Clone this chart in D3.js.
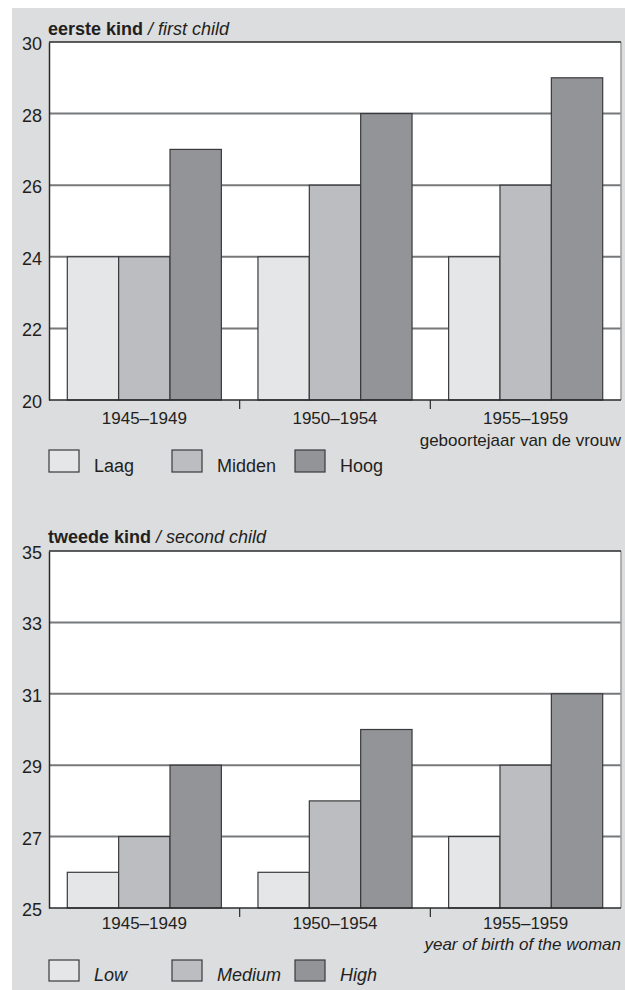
<!DOCTYPE html>
<html>
<head>
<meta charset="utf-8">
<script src="https://cdn.jsdelivr.net/npm/d3@7"></script>
<style>
  html, body { margin: 0; padding: 0; background: #ffffff; }
  svg { display: block; }
  text { font-family: "Liberation Sans", Arial, sans-serif; fill: #231f20; }
</style>
</head>
<body>
<svg id="chart" width="625" height="990"></svg>
<script>
// ---- data ----
const categories = ["1945–1949", "1950–1954", "1955–1959"];
const levelsNL = ["Laag", "Midden", "Hoog"];
const levelsEN = ["Low", "Medium", "High"];
const firstLow = [24, 24, 24];
const firstMid = [24, 26, 26];
const firstHigh = [27, 28, 29];
const secondLow = [26, 26, 27];
const secondMid = [27, 28, 29];
const secondHigh = [29, 30, 31];
const ticksFirst = [20, 22, 24, 26, 28, 30];
const ticksSecond = [25, 27, 29, 31, 33, 35];

const colors = ["#e5e6e8", "#bcbdc0", "#939498"];

const svg = d3.select("#chart");
svg.append("rect").attr("x", 12).attr("y", 8).attr("width", 613).attr("height", 982).attr("fill", "#dcdddf");

const plotLeft = 49, plotRight = 621;
const x0 = d3.scaleBand().domain(categories).range([plotLeft, plotRight]).padding(0);
const x1 = d3.scaleBand().domain([0, 1, 2]).range([18.3, x0.bandwidth() - 18.3]).padding(0);

function drawPanel(cfg) {
  const g = svg.append("g");
  const y = d3.scaleLinear().domain(cfg.domain).range([cfg.bottom, cfg.top]);
  // plot background
  g.append("rect").attr("x", plotLeft).attr("y", cfg.top)
    .attr("width", plotRight - plotLeft).attr("height", cfg.bottom - cfg.top).attr("fill", "#ffffff");
  // gridlines
  g.selectAll(".grid").data(cfg.ticks.slice(1, -1)).enter().append("line")
    .attr("x1", plotLeft).attr("x2", plotRight)
    .attr("y1", d => y(d)).attr("y2", d => y(d))
    .attr("stroke", "#77787a").attr("stroke-width", 2);
  // bars
  const series = cfg.series;
  categories.forEach((c, ci) => {
    series.forEach((s, si) => {
      g.append("rect")
        .attr("x", x0(c) + x1(si))
        .attr("y", y(s[ci]))
        .attr("width", x1.bandwidth())
        .attr("height", y(cfg.domain[0]) - y(s[ci]))
        .attr("fill", colors[si])
        .attr("stroke", "#3a3a3c").attr("stroke-width", 1.2);
    });
  });
  // frame
  g.append("line").attr("x1", plotRight).attr("x2", plotRight).attr("y1", cfg.top).attr("y2", cfg.bottom)
    .attr("stroke", "#9a9b9d").attr("stroke-width", 1.5);
  g.append("line").attr("x1", plotLeft).attr("x2", plotRight).attr("y1", cfg.top).attr("y2", cfg.top)
    .attr("stroke", "#2a2a2a").attr("stroke-width", 1.5);
  // y axis
  const yAxis = d3.axisLeft(y).tickValues(cfg.ticks).tickSize(0).tickPadding(7).tickFormat(d3.format("d"));
  const ya = g.append("g").attr("transform", `translate(${plotLeft},0)`).call(yAxis);
  ya.select(".domain").attr("stroke", "#2a2a2a").attr("stroke-width", 1.5);
  ya.selectAll("text").attr("font-size", 18).attr("dy", "0.42em").attr("fill", "#231f20")
    .style("font-family", '"Liberation Sans", Arial, sans-serif');
  // x axis
  const xa = g.append("g").attr("transform", `translate(0,${cfg.bottom})`);
  xa.append("line").attr("x1", plotLeft).attr("x2", plotRight).attr("y1", 0).attr("y2", 0)
    .attr("stroke", "#2a2a2a").attr("stroke-width", 1.5);
  xa.selectAll(".sep").data(categories.slice(1)).enter().append("line")
    .attr("x1", d => x0(d)).attr("x2", d => x0(d)).attr("y1", 0).attr("y2", 9)
    .attr("stroke", "#2a2a2a").attr("stroke-width", 1.2);
  xa.selectAll(".lbl").data(categories).enter().append("text")
    .attr("x", d => x0(d) + x0.bandwidth() / 2).attr("y", cfg.labelDy)
    .attr("text-anchor", "middle").attr("font-size", 17).text(d => d);
  xa.append("text").attr("x", plotRight).attr("y", cfg.axisTitleDy)
    .attr("text-anchor", "end").attr("font-size", 17)
    .attr("font-style", cfg.italic ? "italic" : "normal").text(cfg.axisTitle);
  // title
  const t = svg.append("text").attr("x", 48).attr("y", cfg.titleY).attr("font-size", 18);
  t.append("tspan").attr("font-weight", "bold").text(cfg.titleBold);
  t.append("tspan").attr("font-style", "italic").text(" / " + cfg.titleItalic);
  // legend
  const lg = svg.append("g");
  cfg.legend.forEach((name, i) => {
    const lx = plotLeft + i * 123;
    lg.append("rect").attr("x", lx).attr("y", cfg.legendTop).attr("width", 30).attr("height", cfg.legendH)
      .attr("fill", colors[i]).attr("stroke", "#3a3a3c").attr("stroke-width", 1.2);
    lg.append("text").attr("x", lx + 45).attr("y", cfg.legendTop + cfg.legendH)
      .attr("font-size", 18).attr("font-style", cfg.italic ? "italic" : "normal").text(name);
  });
}

drawPanel({
  top: 42, bottom: 400, domain: [20, 30], ticks: ticksFirst,
  series: [firstLow, firstMid, firstHigh],
  titleBold: "eerste kind", titleItalic: "first child", titleY: 35,
  axisTitle: "geboortejaar van de vrouw", labelDy: 24, axisTitleDy: 46, italic: false,
  legend: levelsNL, legendTop: 450, legendH: 22
});
drawPanel({
  top: 551, bottom: 908, domain: [25, 35], ticks: ticksSecond,
  series: [secondLow, secondMid, secondHigh],
  titleBold: "tweede kind", titleItalic: "second child", titleY: 543,
  axisTitle: "year of birth of the woman", labelDy: 21, axisTitleDy: 42, italic: true,
  legend: levelsEN, legendTop: 960, legendH: 21
});
</script>
</body>
</html>
